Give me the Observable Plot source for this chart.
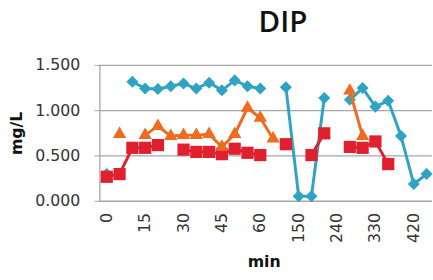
<!DOCTYPE html>
<html><head><meta charset="utf-8">
<script src="https://cdn.jsdelivr.net/npm/d3@7"></script>
<script src="https://cdn.jsdelivr.net/npm/@observablehq/plot@0.6"></script>
<style>html,body{margin:0;padding:0;overflow:hidden;background:#fff;width:433px;height:280px}</style>
</head><body><div id="chart"></div>
<script>
const categories = ["0","5","10","15","20","25","30","35","40","45","50","55","60","90","120","150","180","210","240","270","300","330","360","390","420","450"];
const tickLabels = ["0","15","30","45","60","150","240","330","420"];
const yTicks = [0, 0.5, 1.0, 1.5];
const blueSeries = [0.30, null, 1.32, 1.245, 1.24, 1.27, 1.30, 1.245, 1.31, 1.225, 1.335, 1.27, 1.245, null, 1.26, 0.055, 0.055, 1.14, null, 1.12, 1.25, 1.045, 1.11, 0.72, 0.19, 0.30];
const orangeSeries = [null, 0.74, null, 0.73, 0.83, 0.72, 0.73, 0.73, 0.74, 0.60, 0.74, 1.03, 0.92, 0.69, null, null, null, null, null, 1.22, 0.72, null, null, null, null, null];
const redSeries = [0.27, 0.30, 0.59, 0.59, 0.62, null, 0.57, 0.545, 0.545, 0.52, 0.58, 0.535, 0.51, null, 0.63, null, 0.51, 0.75, null, 0.60, 0.59, 0.66, 0.41, null, null, null];

const BLUE = "#2fa3c4", ORANGE = "#ee6b1f", RED = "#e0202e", GRID = "#a6a6a6";
const FONT = "DejaVu Sans";

function rows(vals) { return vals.map((v, i) => ({x: categories[i], y: v})); }

function seriesMarks(vals, color, symbol, r) {
  const data = rows(vals);
  return [
    Plot.line(data, {x: "x", y: "y", stroke: color, strokeWidth: 3}),
    Plot.dot(data.filter(d => d.y != null), {x: "x", y: "y", symbol, r, fill: color, stroke: "none"})
  ];
}

const chart = Plot.plot({
  width: 440, height: 280,
  marginLeft: 101, marginRight: 1, marginTop: 66, marginBottom: 76,
  style: {fontFamily: FONT, background: "#fff"},
  x: {type: "point", domain: categories, padding: 0.5},
  y: {domain: [0, 1.5]},
  marks: [
    Plot.gridY(yTicks, {stroke: GRID, strokeOpacity: 1, strokeWidth: 1.3}),
    Plot.axisY(yTicks, {tickFormat: d3.format(".3f"), tickSize: 5, tickPadding: 15, fontSize: 16, stroke: GRID, fill: "#333", label: null}),
    Plot.axisX(tickLabels, {tickRotate: -90, tickSize: 0, tickPadding: 12, fontSize: 16, fill: "#333", label: null}),
    Plot.frame({anchor: "left", stroke: GRID, strokeWidth: 1.3}),
    ...seriesMarks(blueSeries, BLUE, "diamond2", 5.5),
    ...seriesMarks(redSeries, RED, "square", 7),
    ...seriesMarks(orangeSeries, ORANGE, "triangle", 5),
    Plot.text(["DIP"], {frameAnchor: "top", lineAnchor: "middle", textAnchor: "middle", dx: 17, dy: -44, fontSize: 30, fontFamily: "Open Sans", fontWeight: 600, fill: "#111"}),
    Plot.text(["mg/L"], {frameAnchor: "left", lineAnchor: "middle", textAnchor: "middle", dx: -84, rotate: -90, fontSize: 16, fontWeight: "bold", fill: "#111"}),
    Plot.text(["min"], {frameAnchor: "bottom", lineAnchor: "middle", textAnchor: "middle", dx: -2, dy: 62, fontSize: 16, fontWeight: "bold", fill: "#111"})
  ]
});
document.getElementById("chart").append(chart);
</script>
</body></html>
